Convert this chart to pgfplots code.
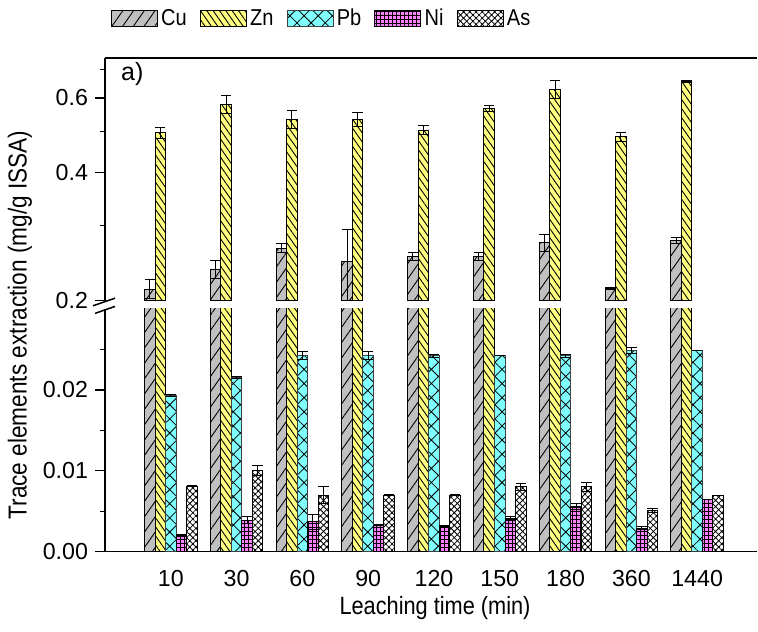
\documentclass[border=0pt]{standalone}
\usepackage{fontspec}
\setmainfont{Liberation Sans}
\newfontfamily\condfont[FakeStretch=0.87]{Liberation Sans}
\usepackage{pgfplots}
\pgfplotsset{compat=1.18}
\usepackage{pgfplotstable}
\usetikzlibrary{patterns.meta}

\definecolor{cuC}{HTML}{C0C0C0}
\definecolor{znC}{HTML}{FFFF80}
\definecolor{pbC}{HTML}{80FFFF}
\definecolor{niC}{HTML}{FF80FF}

\pgfplotstableread{
x cu cue zn zne pb pbe ni nie as ase
0 0.213 0.011 0.497 0.015 0.0193 0.0001 0.0020 0.0001 0.0081 0.0001
1 0.237 0.011 0.580 0.029 0.0215 0.0001 0.0039 0.0004 0.0100 0.0006
2 0.266 0.007 0.534 0.026 0.0242 0.0005 0.0037 0.0009 0.0070 0.0010
3 0.247 0.047 0.534 0.021 0.0242 0.0005 0.0033 0.0001 0.0070 0.0001
4 0.254 0.006 0.504 0.012 0.0242 0.0002 0.0032 0.0001 0.0070 0.0001
5 0.254 0.005 0.567 0.010 0.0242 0.0000 0.0041 0.0002 0.0080 0.0004
6 0.274 0.013 0.629 0.032 0.0242 0.0002 0.0056 0.0004 0.0080 0.0005
7 0.214 0.001 0.486 0.011 0.0249 0.0004 0.0029 0.0002 0.0051 0.0002
8 0.277 0.004 0.655 0.004 0.0249 0.0000 0.0065 0.0000 0.0070 0.0000
}\data

\pgfplotsset{
  myleg/.style={legend image code/.code={\draw[##1] (0pt,-4pt) rectangle (23pt,4pt);}},
  cuS/.style={myleg, fill=cuC, draw=black, line width=0.5pt,
    postaction={pattern={Lines[angle=55,distance=4.4pt,line width=0.45pt]}}},
  znS/.style={myleg, fill=znC, draw=black, line width=0.5pt,
    postaction={pattern={Lines[angle=-55,distance=2.6pt,line width=0.45pt]}}},
  pbS/.style={myleg, fill=pbC, draw=black!75, line width=0.5pt,
    postaction={pattern={Hatch[angle=45,distance=5pt,line width=0.4pt]}}},
  niS/.style={myleg, fill=niC, draw=black, line width=0.5pt,
    postaction={pattern={Hatch[angle=0,distance=2pt,line width=0.4pt]}}},
  asS/.style={myleg, fill=white, draw=black, line width=0.5pt,
    postaction={pattern={Hatch[angle=45,distance=2.2pt,line width=0.4pt]}}},
  errS/.style={error bars/.cd, y dir=both, y explicit,
    error bar style={line width=0.5pt, black},
    error mark options={rotate=90, mark size=2.6pt, line width=0.5pt, black}},
  common/.style={
    scale only axis, width=326pt, height=121.35pt, anchor=south west,
    xmin=-1, xmax=8.91,
    ybar, bar width=0.16,
    axis line style={-, line width=0.75pt, black},
    xtick style={draw=none},
    tick align=outside, major tick length=5pt, minor tick length=2.5pt,
    ytick style={line width=0.6pt, black},
    minor tick style={line width=0.6pt, black},
    tick label style={font=\fontsize{11.6}{14}\selectfont},
    scaled y ticks=false,
    /pgf/number format/assume math mode=true,
  }
}

\begin{document}
\begin{tikzpicture}
\useasboundingbox (0,0) rectangle (379pt,315.5pt);

% lower axis
\begin{axis}[common,
  at={(52.5pt,39.65pt)},
  ymin=0, ymax=0.03,
  axis x line*=bottom, axis y line*=left,
  xtick={0,...,8},
  xticklabels={10,30,60,90,120,150,180,360,1440},
  xticklabel style={yshift=-1pt},
  ytick={0,0.01,0.02}, yticklabels={0.00,0.01,0.02},
  minor ytick={0.005,0.015,0.025},
  legend columns=5,
  legend cell align=left,
  legend style={at={(axis description cs:0.0084,2.195)}, anchor=west,
    draw=none, fill=none, inner sep=0pt,
    nodes={inner sep=1.6pt},
    font=\condfont\fontsize{11.5}{13}\selectfont,
    /tikz/every even column/.append style={column sep=5pt}},
]
\addplot[cuS, bar shift=-0.32] table[x=x,y=cu]{\data};
\addlegendentry{Cu}
\addplot[znS, bar shift=-0.16] table[x=x,y=zn]{\data};
\addlegendentry{Zn}
\addplot[pbS, bar shift=0, errS] table[x=x,y=pb,y error=pbe]{\data};
\addlegendentry{Pb}
\addplot[niS, bar shift=0.16, errS] table[x=x,y=ni,y error=nie]{\data};
\addlegendentry{Ni}
\addplot[asS, bar shift=0.32, errS] table[x=x,y=as,y error=ase]{\data};
\addlegendentry{As}
\end{axis}

% upper axis
\begin{axis}[common,
  at={(52.5pt,165.15pt)},
  ymode=log, ymin=0.2, ymax=0.745, log origin y=infty,
  axis x line*=top, axis y line*=left,
  xtick=\empty,
  ytick={0.2,0.4,0.6}, yticklabels={0.2,0.4,0.6},
  minor ytick={0.3,0.5,0.7},
]
\addplot[cuS, bar shift=-0.32, errS] table[x=x,y=cu,y error=cue]{\data};
\addplot[znS, bar shift=-0.16, errS] table[x=x,y=zn,y error=zne]{\data};
\node[anchor=west, font=\fontsize{12.5}{14}\selectfont] at (axis description cs:0.014,0.934) {a)};
\end{axis}

% axis break marks
\draw[line width=0.75pt] (46.5pt,162.6pt) -- (57.5pt,166.4pt);
\draw[line width=0.75pt] (47.5pt,158.8pt) -- (57.5pt,162.3pt);

% axis labels
\node[rotate=90, font=\condfont\fontsize{13}{15}\selectfont] at (10pt,153pt)
  {Trace elements extraction (mg/g ISSA)};
\node[font=\condfont\fontsize{12.5}{15}\selectfont] at (217.5pt,11.5pt)
  {Leaching time (min)};
\end{tikzpicture}
\end{document}
